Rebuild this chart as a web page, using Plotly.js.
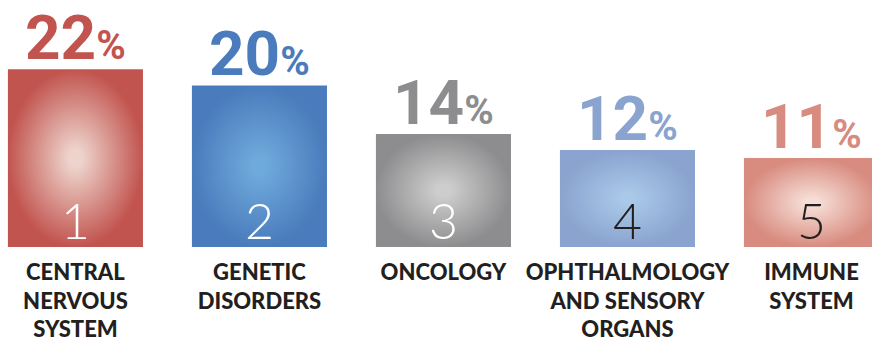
<!DOCTYPE html>
<html>
<head>
<meta charset="utf-8">
<script src="https://cdn.plot.ly/plotly-3.0.1.min.js"></script>
<style>html,body{margin:0;padding:0;background:#fff;}#chart{width:872px;height:342px;}</style>
</head>
<body>
<div id="chart"></div>
<script>
const categories = ["CENTRAL<br>NERVOUS<br>SYSTEM", "GENETIC<br>DISORDERS", "ONCOLOGY", "OPHTHALMOLOGY<br>AND SENSORY<br>ORGANS", "IMMUNE<br>SYSTEM"];
const ranks = ["1", "2", "3", "4", "5"];
const values = [22, 20, 14, 12, 11];
const edgeColors = ["#C2544F", "#4A7BBC", "#8D8D8F", "#8AA3CF", "#D88B7F"];
const centerColors = ["#EDD3CB", "#6EAADB", "#CDCDCD", "#A9C9E8", "#F6DDD5"];
const labelColors = ["#C2544F", "#4A7BBC", "#8D8D8F", "#8AA3CF", "#D88B7F"];
const rankColors = ["#FFFFFF", "#FFFFFF", "#FFFFFF", "#231F20", "#231F20"];

const half = 0.367;
const traces = values.map((v, i) => ({
  type: "scatter",
  mode: "lines",
  x: [i - half, i + half, i + half, i - half, i - half],
  y: [0, 0, v, v, 0],
  fill: "toself",
  line: {width: 0, color: "rgba(0,0,0,0)"},
  fillcolor: edgeColors[i],
  fillgradient: {type: "radial", colorscale: [[0, centerColors[i]], [0.1, centerColors[i]], [1, edgeColors[i]]]},
  hoverinfo: "skip",
  showlegend: false
}));

const annotations = [];
values.forEach((v, i) => {
  annotations.push({
    x: i, y: v, xref: "x", yref: "y",
    text: v + "<span style='font-size:40px'>%</span>",
    showarrow: false, yanchor: "bottom", yshift: -7,
    font: {family: "Roboto, Liberation Sans, sans-serif", size: 62, color: labelColors[i], weight: 700, stretch: "condensed"}
  });
  annotations.push({
    x: i, y: 0, xref: "x", yref: "y",
    text: ranks[i],
    showarrow: false, yanchor: "middle", yshift: 27,
    font: {family: "Lato, Roboto, sans-serif", size: 50, color: rankColors[i], weight: 300}
  });
});

const layout = {
  width: 872, height: 342,
  margin: {l: 0, r: 0, t: 0, b: 95},
  paper_bgcolor: "#fff", plot_bgcolor: "#fff",
  xaxis: {
    range: [-0.41, 4.329], showgrid: false, zeroline: false, showline: false,
    tickvals: [0, 1, 2, 3, 4], ticktext: categories, ticks: "",
    ticklabelstandoff: 10,
    tickfont: {family: "Lato, sans-serif", size: 22, color: "#231F20", weight: 900},
    fixedrange: true
  },
  yaxis: {range: [0, 30.57], visible: false, fixedrange: true},
  annotations: annotations,
  showlegend: false
};

Plotly.newPlot("chart", traces, layout, {displayModeBar: false, staticPlot: true});
</script>
</body>
</html>
